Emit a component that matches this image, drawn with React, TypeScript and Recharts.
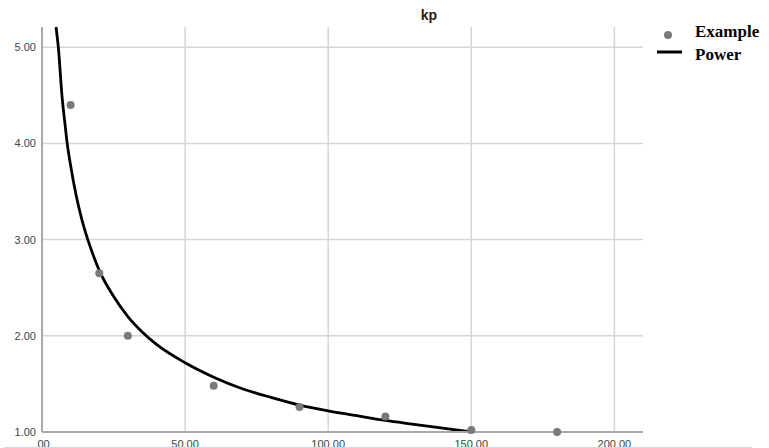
import {
  CartesianGrid,
  ComposedChart,
  Customized,
  Line,
  Scatter,
  XAxis,
  YAxis,
} from "recharts";

// observed points (x, kp)
const sampleX = [10, 20, 30, 60, 90, 120, 150, 180];
const sampleY = [4.4, 2.65, 2.0, 1.48, 1.26, 1.16, 1.02, 1.0];

// power fit line
const fitX = [4.9, 5.7, 7, 8, 8.8, 10, 12, 14, 16, 18, 20, 25, 30, 35, 40, 50, 60, 70, 80, 90, 100, 110, 120, 130, 140, 150];
const fitY = [5.21, 5.0, 4.49, 4.21, 4.0, 3.77, 3.45, 3.2, 3.0, 2.83, 2.68, 2.41, 2.2, 2.04, 1.91, 1.72, 1.57, 1.45, 1.36, 1.28, 1.22, 1.17, 1.12, 1.08, 1.04, 1.0];

const xTicks = [0, 50, 100, 150, 200];
const yTicks = [1, 2, 3, 4, 5];

const samples = sampleX.map((x, i) => ({ x, y: sampleY[i] }));
const fit = fitX.map((x, i) => ({ x, y: fitY[i] }));

const AXIS = "#a8a8a8";
const GRID = "#d6d6d6";
const TICK = { fill: "#444", fontSize: 11, fontFamily: "Liberation Sans, Arial, sans-serif" };
const SERIF = "Liberation Serif, Times New Roman, serif";

function LegendBox() {
  return (
    <svg width={112} height={70} style={{ position: "absolute", left: 657, top: 0 }}>
      <circle cx={11} cy={35} r={4} fill="#7a7a7a" />
      <line x1={0} y1={52} x2={25} y2={52} stroke="#000" strokeWidth={3} />
      <text x={38} y={37} fontFamily={SERIF} fontWeight="bold" fontSize={17} fill="#000">
        Example
      </text>
      <text x={38} y={60} fontFamily={SERIF} fontWeight="bold" fontSize={17} fill="#000">
        Power
      </text>
    </svg>
  );
}

export default function App() {
  return (
    <div style={{ position: "absolute", left: 0, top: 0, width: 769, height: 448, background: "#fff" }}>
      <ComposedChart width={769} height={448} margin={{ top: 27, right: 126, bottom: 0, left: 0 }}>
        <CartesianGrid stroke={GRID} strokeWidth={1.5} horizontalValues={[2, 3, 4, 5]} verticalValues={[50, 100, 150, 200]} />
        <XAxis
          type="number"
          dataKey="x"
          domain={[0, 210]}
          ticks={xTicks}
          interval={0}
          height={16}
          tickLine={false}
          tickSize={6}
          tickMargin={2}
          tick={TICK}
          axisLine={{ stroke: AXIS, strokeWidth: 2 }}
          tickFormatter={(v: number) => (v === 0 ? ".00" : v.toFixed(2))}
        />
        <YAxis
          type="number"
          dataKey="y"
          domain={[1, 5.21]}
          ticks={yTicks}
          interval={0}
          width={42}
          tickLine={false}
          tickSize={4}
          tickMargin={2}
          tick={TICK}
          axisLine={{ stroke: AXIS, strokeWidth: 2 }}
          tickFormatter={(v: number) => v.toFixed(2)}
        />
        <Scatter name="Example" data={samples} fill="#7a7a7a" shape={(p: any) => <circle cx={p.cx} cy={p.cy} r={4} fill="#7a7a7a" />} isAnimationActive={false} />
        <Line name="Power" data={fit} dataKey="y" type="monotone" stroke="#000" strokeWidth={2.8} dot={false} activeDot={false} isAnimationActive={false} />
        <Customized
          component={() => (
            <text x={429} y={20} textAnchor="middle" fontFamily="Liberation Sans, Arial, sans-serif" fontWeight="bold" fontSize={14} fill="#222">
              kp
            </text>
          )}
        />
      </ComposedChart>
      <LegendBox />
      <div style={{ position: "absolute", left: 4, top: 447, width: 748, height: 1, background: "#d4d4f6" }} />
    </div>
  );
}
